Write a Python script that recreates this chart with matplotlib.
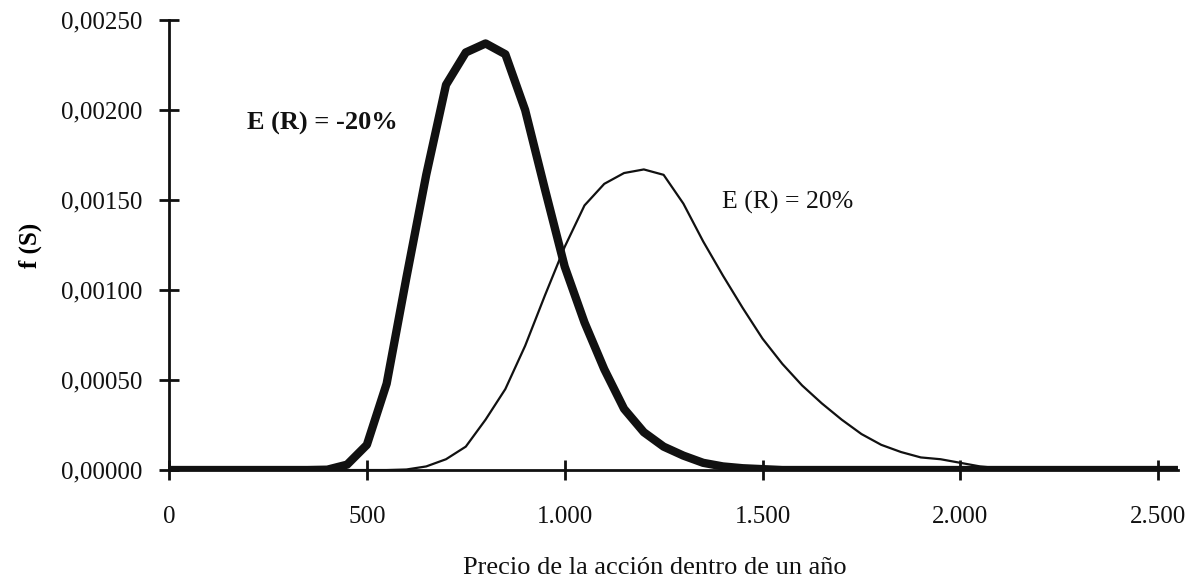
import matplotlib.pyplot as plt
from matplotlib.ticker import FuncFormatter

plt.rcParams["font.family"] = ["Liberation Serif", "DejaVu Serif"]

# Precio de la acción (pasos de 50)
precio = list(range(0, 2600, 50))

# E(R) = -20%  (curva gruesa)
dens_neg = [
    0, 0, 0, 0, 0, 0, 0, 0, 0.000002, 0.00003,        # 0 - 450
    0.00014, 0.00048, 0.00107, 0.00164, 0.00214,      # 500 - 700
    0.00232, 0.00237, 0.00231, 0.00200, 0.00156,      # 750 - 950
    0.00113, 0.00082, 0.00056, 0.00034, 0.00021,      # 1000 - 1200
    0.00013, 0.00008, 0.00004, 0.00002, 0.00001,      # 1250 - 1450
    0.000005, 0, 0, 0, 0, 0, 0, 0, 0, 0,             # 1500 - 1950
    0, 0, 0, 0, 0, 0, 0, 0, 0, 0, 0, 0,               # 2000 - 2550
]

# E(R) = 20%  (curva fina)
dens_pos = [
    0, 0, 0, 0, 0, 0, 0, 0, 0, 0, 0, 0,               # 0 - 550
    0.000003, 0.00002, 0.00006, 0.00013, 0.00028,     # 600 - 800
    0.00045, 0.00069, 0.00097, 0.00124, 0.00147,      # 850 - 1050
    0.00159, 0.00165, 0.00167, 0.00164, 0.00148,      # 1100 - 1300
    0.00127, 0.00108, 0.00090, 0.00073, 0.00059,      # 1350 - 1550
    0.00047, 0.00037, 0.00028, 0.00020, 0.00014,      # 1600 - 1800
    0.00010, 0.00007, 0.00006, 0.00004, 0.00002,      # 1850 - 2050
    0.00001, 0, 0, 0, 0, 0, 0, 0, 0,                  # 2100 - 2500
]
dens_pos = dens_pos + [0] * (len(precio) - len(dens_pos))

fig = plt.figure(figsize=(11.93, 5.81), dpi=100)
ax = fig.add_axes([0.1417, 0.191, 0.8457, 0.7745])

ax.plot(precio, dens_pos, color="#111111", lw=1.6, zorder=3,
        solid_joinstyle="round")
ax.plot(precio, dens_neg, color="#111111", lw=6, zorder=4,
        solid_joinstyle="round", solid_capstyle="butt")

ax.set_xlim(0, 2550)
ax.set_ylim(0, 0.0025)
ax.set_xticks([0, 500, 1000, 1500, 2000, 2500])
ax.set_yticks([0, 0.0005, 0.001, 0.0015, 0.002, 0.0025])
ax.xaxis.set_major_formatter(FuncFormatter(lambda v, p: f"{int(v):,}".replace(",", ".")))
ax.yaxis.set_major_formatter(FuncFormatter(lambda v, p: f"{v:.5f}".replace(".", ",")))

for side in ("top", "right"):
    ax.spines[side].set_visible(False)
for side in ("left", "bottom"):
    ax.spines[side].set_linewidth(2)
    ax.spines[side].set_color("#111111")
ax.tick_params(direction="inout", length=14, width=2, color="#111111",
               labelcolor="#111111")
ax.tick_params(axis="x", labelsize=18, pad=19)
ax.tick_params(axis="y", labelsize=18, pad=12)

ax.text(197, 0.00189, "E (R) = -20%", fontsize=19, fontweight="bold",
        color="#111111")
ax.text(1398, 0.00145, "E (R) = 20%", fontsize=18.5, color="#111111")

ax.set_ylabel("f (S)", fontsize=18, fontweight="bold", labelpad=14)
fig.text(655 / 1193, 1 - 568 / 581, "Precio de la acción dentro de un año",
         fontsize=19, ha="center", va="center", color="#111111")

fig.savefig("out.png", dpi=100)
